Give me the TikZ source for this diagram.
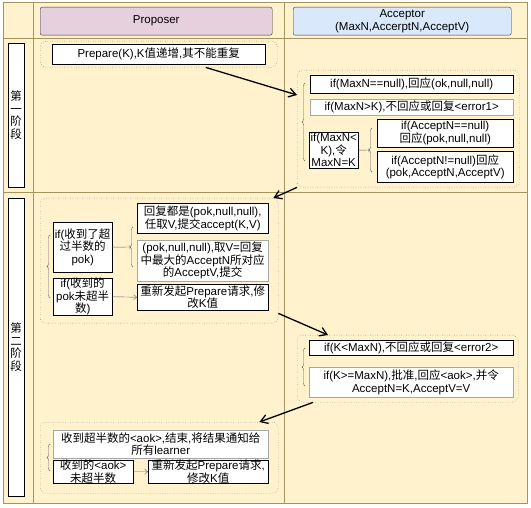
\documentclass[tikz,border=0pt]{standalone}
\usepackage{fontspec}
\setmainfont{Liberation Sans}
\newfontfamily\zhfont{Noto Sans CJK SC}
% switch to the CJK font for Chinese characters
\XeTeXinterchartokenstate=1
\newXeTeXintercharclass\zhclass
\newcount\zhcode
\zhcode="4E00
\loop \XeTeXcharclass\zhcode=\zhclass \advance\zhcode by 1 \ifnum\zhcode<"A000 \repeat
\XeTeXinterchartoks 0 \zhclass = {\begingroup\zhfont}
\XeTeXinterchartoks 4095 \zhclass = {\begingroup\zhfont}
\XeTeXinterchartoks \zhclass 0 = {\endgroup}
\XeTeXinterchartoks \zhclass 4095 = {\endgroup}
\usetikzlibrary{arrows.meta,decorations.pathreplacing}
\definecolor{lanefill}{HTML}{FFF2CC}
\definecolor{laneline}{HTML}{A3945F}
\definecolor{propfill}{HTML}{E6D0DE}
\definecolor{accfill}{HTML}{DAE8FC}
\tikzset{
  txt/.style={font=\fontsize{11.5}{12.5}\selectfont},
  wh/.style 2 args={minimum width=#1, minimum height=#2},
  box/.style={txt, draw=black, fill=white, anchor=north west, align=center, inner sep=0pt},
  lightbox/.style={box, draw=black!35},
  group/.style={draw=black!70, dotted, rounded corners=6pt, anchor=north west, inner sep=0pt},
  flow/.style={-{Straight Barb[length=7pt,width=9pt]}, line width=1.3pt},
  link/.style={black!60, -{Straight Barb[length=3pt,width=5pt]}},
  tick/.style={black!60, -{Bar[width=4pt]}},
  curly/.style={black!60, decorate, decoration={brace, amplitude=3pt}},
}

\begin{document}
\begin{tikzpicture}[x=1pt,y=-1pt]
\useasboundingbox (0,0) rectangle (531,508);
% lanes
\fill[lanefill] (3,2) rectangle (527,503);
\draw[laneline] (3,2) rectangle (527,503);
\draw[laneline] (33,2) -- (33,503) (284,2) -- (284,503) (3,38) -- (527,38) (3,192) -- (527,192);
\node[box, fill=propfill, draw=black!80, rounded corners=2pt, wh={232}{28}] (hprop) at (40,7) {Proposer};
\node[box, fill=accfill, draw=black!80, rounded corners=2pt, wh={218}{28}] (hacc) at (293,7) {Acceptor\\(MaxN,AccerptN,AcceptV)};
\node[box, wh={16}{144}] (ph1) at (8,43) {第\\一\\阶\\段};
\node[box, wh={16}{298}] (ph2) at (8,198) {第\\二\\阶\\段};

% groups
\node[group, wh={237}{26}] (g1p) at (40,41) {};
\node[group, wh={222}{117}] (g1a) at (297,70) {};
\node[group, wh={238}{125}] (g2p) at (40,198) {};
\node[group, wh={221}{67}] (g2a) at (297,335) {};
\node[group, wh={238}{71}] (g3p) at (40,422) {};

% phase 1
\node[box, wh={213}{20}] (prep) at (52,44) {Prepare(K),K值递增,其不能重复};
\node[box, wh={203}{18}] (a1) at (310,75) {if(MaxN==null),回应(ok,null,null)};
\node[lightbox, wh={203}{16}] (a2) at (310,99) {if(MaxN>K),不回应或回复<error1>};
\node[box, wh={49}{36}] (a3) at (309,132) {if(MaxN<\\K),令\\MaxN=K};
\node[box, wh={136}{28}] (a31) at (377,119) {if(AcceptN==null)\\回应(pok,null,null)};
\node[box, wh={136}{31}] (a32) at (377,151) {if(AcceptN!=null)回应\\(pok,AcceptN,AcceptV)};
\draw[curly] (305,161) -- (305,83);
\coordinate (b2) at (369,150);
\draw[curly] (372,172) -- (372,128);
\draw[tick] (a3.east) -- (b2);

% phase 2
\node[box, wh={59}{50}] (p1) at (53,222) {if(收到了超\\过半数的\\pok)};
\node[box, wh={59}{37}] (p2) at (53,278) {if(收到的\\pok未超半\\数)};
\node[box, wh={131}{30}] (p11) at (137,203) {回复都是(pok,null,null),\\任取V,提交accept(K,V)};
\node[lightbox, wh={131}{41}] (p12) at (137,240) {(pok,null,null),取V=回复\\中最大的AcceptN所对应\\的AcceptV,提交};
\node[box, wh={131}{26}] (p21) at (137,284) {重新发起Prepare请求,修\\改K值};
\draw[curly] (50,298) -- (50,235);
\coordinate (b4) at (130,247);
\draw[curly] (133,267) -- (133,227);
\draw[tick] (p1.east) -- (b4);
\draw[link] (p2.east) -- (p21.west);

\node[box, wh={204}{15}] (q1) at (309,340) {if(K<MaxN),不回应或回复<error2>};
\node[lightbox, wh={204}{30}] (q2) at (309,367) {if(K>=MaxN),批准,回应<aok>,并令\\AcceptN=K,AcceptV=V};
\draw[curly] (305,386) -- (305,348);

\node[lightbox, wh={215}{28}] (r1) at (53,430) {收到超半数的<aok>,结束,将结果通知给\\所有learner};
\node[box, wh={80}{21}] (r2) at (53,460) {收到的<aok>\\未超半数};
\node[box, wh={120}{21}] (r21) at (148,460) {重新发起Prepare请求,\\修改K值};
\draw[curly] (50,471) -- (50,444);
\draw[link] (r2.east) -- (r21.west);

% messages
\draw[flow] ([xshift=47pt]g1p.south) -- ([yshift=-25pt]g1a.north west);
\draw[flow] (g1a.south west) -- ([xshift=-5pt]g2p.north east);
\draw[flow] ([yshift=10pt]g2p.south east) -- ([xshift=31pt]g2a.north west);
\draw[flow] ([xshift=16pt]g2a.south west) -- ([xshift=-19pt]g3p.north east);
\end{tikzpicture}
\end{document}
